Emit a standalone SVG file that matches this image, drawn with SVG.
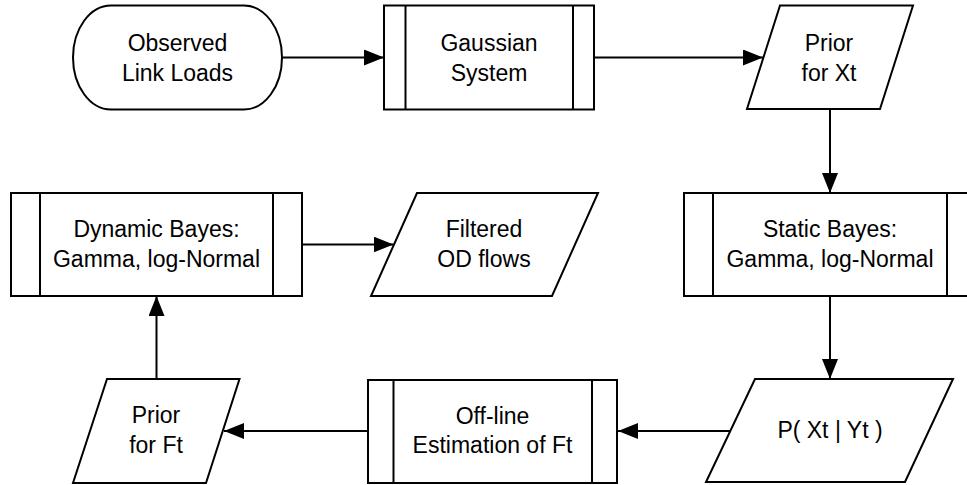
<svg xmlns="http://www.w3.org/2000/svg" width="967" height="485" viewBox="0 0 967 485">
  <style>
    .shape { fill: #ffffff; stroke: #000000; stroke-width: 2; }
    .inner { stroke: #000000; stroke-width: 2; fill: none; }
    .conn { stroke: #000000; stroke-width: 2; fill: none; marker-end: url(#arrow); }
    text { font-family: "Liberation Sans", Arial, Helvetica, sans-serif; font-size: 23px; fill: #000000; text-anchor: middle; }
  </style>
  <defs>
    <marker id="arrow" markerUnits="userSpaceOnUse" markerWidth="20" markerHeight="16" refX="20" refY="8" orient="auto">
      <path d="M0,0 L20,8 L0,16 Z" fill="#000000"/>
    </marker>
  </defs>
  <rect width="967" height="485" fill="#ffffff"/>

  <g id="connectors">
    <path class="conn" d="M282,57.5 H384"/>
    <path class="conn" d="M594,57.5 H763"/>
    <path class="conn" d="M830,109 V193"/>
    <path class="conn" d="M830,296 V379"/>
    <path class="conn" d="M730,431 H618"/>
    <path class="conn" d="M368,431 H224"/>
    <path class="conn" d="M156.5,379 V296"/>
    <path class="conn" d="M302,244.5 H393.5"/>
  </g>

  <g id="observed">
    <rect class="shape" x="73" y="5.5" width="209" height="104" rx="38" ry="52"/>
    <text x="177.5" y="51">Observed</text>
    <text x="177.5" y="81">Link Loads</text>
  </g>

  <g id="gaussian">
    <rect class="shape" x="384" y="5.5" width="210" height="104"/>
    <line class="inner" x1="405.5" y1="5.5" x2="405.5" y2="109.5"/>
    <line class="inner" x1="573" y1="5.5" x2="573" y2="109.5"/>
    <text x="489" y="51">Gaussian</text>
    <text x="489" y="81">System</text>
  </g>

  <g id="prior-xt">
    <polygon class="shape" points="780,5.5 913,5.5 880,109 747,109"/>
    <text x="829" y="51">Prior</text>
    <text x="829" y="81">for Xt</text>
  </g>

  <g id="static-bayes">
    <rect class="shape" x="684" y="193" width="292" height="103"/>
    <line class="inner" x1="713" y1="193" x2="713" y2="296"/>
    <line class="inner" x1="947" y1="193" x2="947" y2="296"/>
    <text x="830" y="237">Static Bayes:</text>
    <text x="830" y="267">Gamma, log-Normal</text>
  </g>

  <g id="p-xt-yt">
    <polygon class="shape" points="755,379 953,379 905,482 706,482"/>
    <text x="830" y="438">P( Xt | Yt )</text>
  </g>

  <g id="offline">
    <rect class="shape" x="368" y="380" width="249" height="103"/>
    <line class="inner" x1="393.5" y1="380" x2="393.5" y2="483"/>
    <line class="inner" x1="592" y1="380" x2="592" y2="483"/>
    <text x="492.5" y="424">Off-line</text>
    <text x="492.5" y="453">Estimation of Ft</text>
  </g>

  <g id="prior-ft">
    <polygon class="shape" points="107,379 239.5,379 206,483 73,483"/>
    <text x="156" y="423">Prior</text>
    <text x="156" y="453">for Ft</text>
  </g>

  <g id="dynamic-bayes">
    <rect class="shape" x="11" y="193" width="291" height="103"/>
    <line class="inner" x1="40" y1="193" x2="40" y2="296"/>
    <line class="inner" x1="273" y1="193" x2="273" y2="296"/>
    <text x="156.5" y="237">Dynamic Bayes:</text>
    <text x="156.5" y="267">Gamma, log-Normal</text>
  </g>

  <g id="filtered">
    <polygon class="shape" points="417,193 598,193 552,296 371,296"/>
    <text x="484" y="237">Filtered</text>
    <text x="484" y="267">OD flows</text>
  </g>
</svg>
